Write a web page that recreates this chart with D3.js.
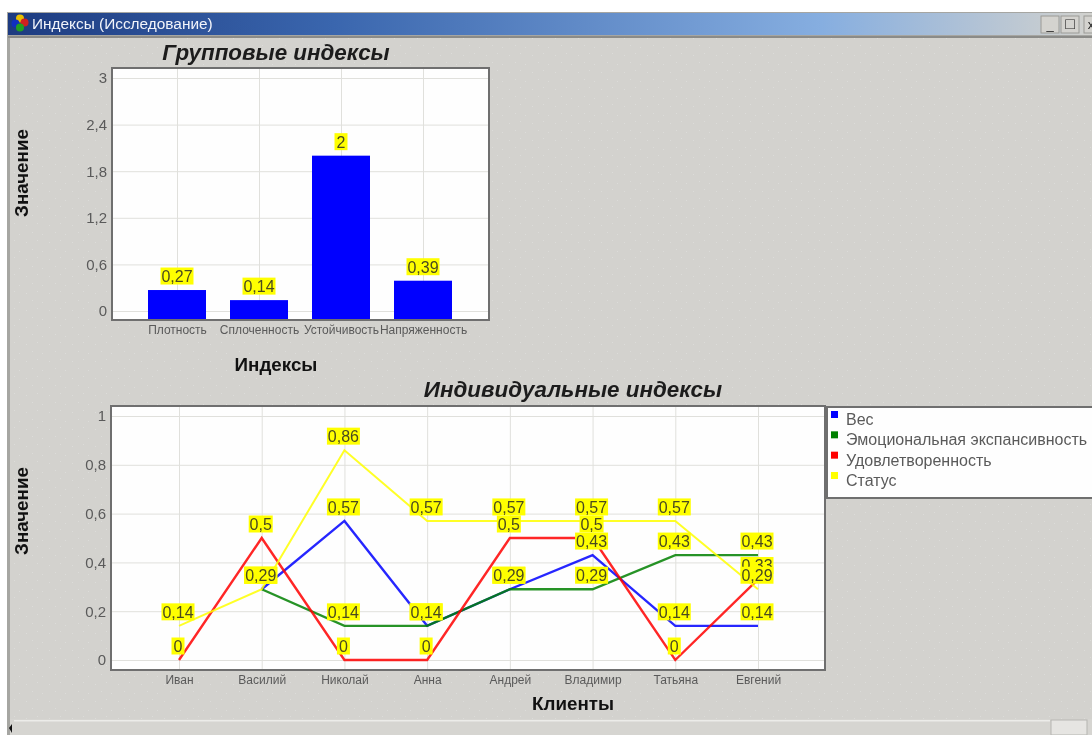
<!DOCTYPE html>
<html><head><meta charset="utf-8">
<script src="https://cdn.jsdelivr.net/npm/d3@7/dist/d3.min.js"></script>
<style>
html,body{margin:0;padding:0;background:#fff;overflow:hidden}
svg{display:block;filter:blur(0.6px)}
text{font-family:"Liberation Sans",Arial,sans-serif}
.grid line{stroke:#e0e0dc;stroke-width:1}
.grid path{display:none}
.tick text{fill:#5a5a5a}
</style></head><body>
<svg id="c" width="1092" height="735"></svg>
<script>
const windowTitle = "Индексы (Исследование)";
const groupTitle = "Групповые индексы";
const groupXLabel = "Индексы";
const yLabel = "Значение";
const groupCats = ["Плотность","Сплоченность","Устойчивость","Напряженность"];
const groupVals = [0.27,0.14,2,0.39];
const groupTicks = [0,0.6,1.2,1.8,2.4,3];

const indivTitle = "Индивидуальные индексы";
const indivXLabel = "Клиенты";
const clients = ["Иван","Василий","Николай","Анна","Андрей","Владимир","Татьяна","Евгений"];
const indivTicks = [0,0.2,0.4,0.6,0.8,1];
const seriesNames = ["Вес","Эмоциональная экспансивность","Удовлетворенность","Статус"];
const seriesColors = ["#0000ff","#008000","#ff0000","#ffff00"];
const vVes    = [null,0.29,0.57,0.14,0.29,0.43,0.14,0.14];
const vEmo    = [null,0.29,0.14,0.14,0.29,0.29,0.43,0.43];
const vUdo    = [0,0.5,0,0,0.5,0.5,0,0.33];
const vStatus = [0.14,0.29,0.86,0.57,0.57,0.57,0.57,0.29];
const seriesVals = [vVes,vEmo,vUdo,vStatus];

const fmt = d => String(d).replace(".",",");
const svg = d3.select("#c");
const defs = svg.append("defs");

// window chrome
const tex = defs.append("pattern").attr("id","tex").attr("width",23).attr("height",17).attr("patternUnits","userSpaceOnUse");
tex.append("rect").attr("width",23).attr("height",17).attr("fill","#d3d2ce");
[[3,4],[14,2],[9,11],[19,13]].forEach(p=>tex.append("rect").attr("x",p[0]).attr("y",p[1]).attr("width",1).attr("height",1).attr("fill","#dcdcd9"));
const grad = defs.append("linearGradient").attr("id","tb");
[[0,"#1d3b80"],[0.3,"#3a66ae"],[0.75,"#86aee0"],[1,"#d2d2ce"]].forEach(s=>grad.append("stop").attr("offset",s[0]).attr("stop-color",s[1]));
svg.append("rect").attr("x",7).attr("y",12).attr("width",1085).attr("height",723).attr("fill","#a6a6a2");
svg.append("rect").attr("x",10).attr("y",38).attr("width",1082).attr("height",697).attr("fill","url(#tex)");
svg.append("rect").attr("x",8).attr("y",13).attr("width",1084).attr("height",22).attr("fill","url(#tb)");
svg.append("rect").attr("x",8).attr("y",36).attr("width",1084).attr("height",2).attr("fill","#8b8b88");
[["#e8c000",20,18.5],["#d02020",24.5,22.5],["#1030c0",15.5,23.5],["#20a020",20,27.5]].forEach(c=>
  svg.append("circle").attr("cx",c[1]).attr("cy",c[2]).attr("r",4).attr("fill",c[0]));
svg.append("text").attr("x",32).attr("y",29).attr("font-size",15.4).attr("fill","#f2f4fa").text(windowTitle);
[[1041,"_"],[1061,"□"],[1084,"x"]].forEach((b,i)=>{
  svg.append("rect").attr("x",b[0]).attr("y",16).attr("width",i==2?10:18).attr("height",17).attr("fill","#d4d3cf").attr("stroke","#9a9a96");
  svg.append("text").attr("x",b[0]+9-(i==2?2:0)).attr("y",29).attr("text-anchor","middle").attr("font-size",i==1?16:13).attr("fill","#222").text(b[1]);
});
// scrollbar
svg.append("rect").attr("x",10).attr("y",719).attr("width",1082).attr("height",16).attr("fill","#d6d5d1");
svg.append("rect").attr("x",14).attr("y",720).attr("width",1036).attr("height",1.5).attr("fill","#ecece9");
svg.append("path").attr("d","M9,728L12,724L12,733Z").attr("fill","#111");
svg.append("rect").attr("x",1051).attr("y",720).attr("width",36).attr("height",15).attr("fill","#e6e5e2").attr("stroke","#b5b5b1");

function plotFrame(box, yScale, ticks, xPts, labelDy){
  svg.append("rect").attr("x",box.l).attr("y",box.t).attr("width",box.r-box.l).attr("height",box.b-box.t).attr("fill","#fefefe");
  const gy = svg.append("g").attr("class","grid").attr("transform",`translate(${box.l},0)`)
    .call(d3.axisLeft(yScale).tickValues(ticks).tickFormat(fmt).tickSize(-(box.r-box.l)).tickPadding(5));
  gy.selectAll("text").attr("font-size",15);
  const gx = svg.append("g").attr("class","grid").attr("transform",`translate(0,${box.b})`)
    .call(d3.axisBottom(xPts).tickSize(-(box.b-box.t)).tickPadding(labelDy));
  gx.selectAll("text").attr("font-size",12).attr("fill","#444");
  return ()=>svg.append("rect").attr("x",box.l).attr("y",box.t).attr("width",box.r-box.l).attr("height",box.b-box.t).attr("fill","none").attr("stroke","#6f6f6f").attr("stroke-width",2);
}
function dataLabel(x,y,t){
  const w = t.length<=1 ? 13 : (t.length==3 ? 24 : 33);
  svg.append("rect").attr("x",x-w/2).attr("y",y-8.5).attr("width",w).attr("height",17).attr("fill","#ffff00");
  svg.append("text").attr("x",x).attr("y",y+6).attr("text-anchor","middle").attr("font-size",16).attr("fill","#4a4a20").text(t);
}
function titles(t,tx,ty,xl,xx,xy,yy){
  svg.append("text").attr("x",tx).attr("y",ty).attr("text-anchor","middle").attr("font-size",22.4).attr("font-weight","bold").attr("font-style","italic").attr("fill","#1c1c1c").text(t);
  svg.append("text").attr("x",xx).attr("y",xy).attr("text-anchor","middle").attr("font-size",18.8).attr("font-weight","bold").attr("fill","#111").text(xl);
  svg.append("text").attr("transform",`translate(28,${yy}) rotate(-90)`).attr("text-anchor","middle").attr("font-size",18.8).attr("font-weight","bold").attr("fill","#111").text(yLabel);
}

// top chart
const b1 = {l:112,r:489,t:68,b:320};
const y1 = d3.scaleLinear().domain([0,3]).range([311,78]);
const x1 = d3.scalePoint().domain(groupCats).range([177,423]);
const close1 = plotFrame(b1,y1,groupTicks,x1,5);
const barW = 58;
svg.append("g").selectAll("rect").data(groupVals).join("rect")
  .attr("x",(d,i)=>x1(groupCats[i])-barW/2).attr("width",barW)
  .attr("y",d=>y1(d)).attr("height",d=>b1.b-y1(d)).attr("fill","#0000ff");
close1();
groupVals.forEach((v,i)=>dataLabel(x1(groupCats[i]),y1(v)-14,fmt(v)));
titles(groupTitle,276,60,groupXLabel,276,371,173);

// bottom chart
const b2 = {l:111,r:825,t:406,b:670};
const y2 = d3.scaleLinear().domain([0,1]).range([660,416]);
const x2 = d3.scalePoint().domain(clients).range([179,758]);
const close2 = plotFrame(b2,y2,indivTicks,x2,5);
const line = d3.line().defined(d=>d!=null).x((d,i)=>x2(clients[i])).y(d=>y2(d));
seriesVals.forEach((vals,k)=>{
  svg.append("path").attr("d",line(vals)).attr("fill","none").attr("stroke",seriesColors[k]).attr("stroke-width",k==3?2:2.4).attr("stroke-opacity",0.85);
});
close2();
[vUdo,vVes,vEmo,vStatus].forEach(vals=>vals.forEach((v,i)=>{
  if(v!=null) dataLabel(x2(clients[i])-1,y2(v)-14,fmt(v));
}));
titles(indivTitle,573,397,indivXLabel,573,710,511);

// legend
svg.append("rect").attr("x",827).attr("y",407).attr("width",270).attr("height",91).attr("fill","#fefefe").attr("stroke","#6f6f6f").attr("stroke-width",2);
const legendY = d3.scalePoint().domain(seriesNames).range([420,481]);
seriesNames.forEach((n,k)=>{
  svg.append("rect").attr("x",831).attr("y",legendY(n)-9).attr("width",7).attr("height",7).attr("fill",seriesColors[k]);
  svg.append("text").attr("x",846).attr("y",legendY(n)+5).attr("font-size",16).attr("fill","#5a5a5a").text(n);
});
</script>
</body></html>
